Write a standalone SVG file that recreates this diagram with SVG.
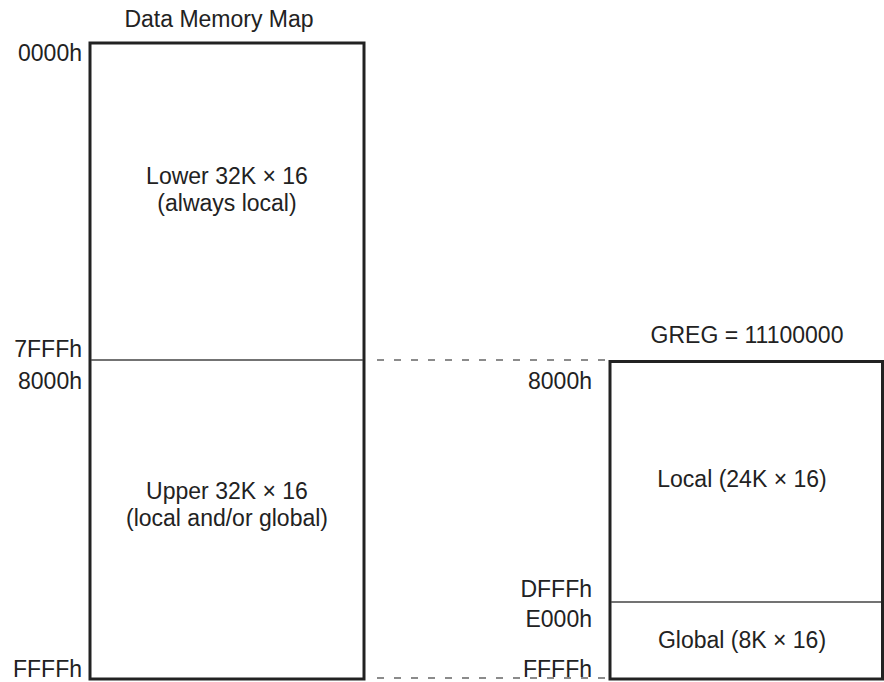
<svg xmlns="http://www.w3.org/2000/svg" width="884" height="682" viewBox="0 0 884 682">
<style>
text{font-family:"Liberation Sans",Arial,sans-serif;font-size:23px;fill:#222}
.e{text-anchor:end}
.m{text-anchor:middle}
.box{fill:#fff;stroke:#222;stroke-width:3}
.div{stroke:#444;stroke-width:1.5;fill:none}
.dash{stroke:#666;stroke-width:1.5;stroke-dasharray:7 10;fill:none}
</style>
<rect width="884" height="682" fill="#fff"/>
<g id="connectors">
<line class="dash" x1="377" y1="360" x2="608" y2="360"/>
<line class="dash" x1="377" y1="678" x2="608" y2="678"/>
</g>
<g id="data-memory-map">
<text class="m" x="219" y="27">Data Memory Map</text>
<rect class="box" x="90" y="43" width="274" height="636"/>
<line class="div" x1="91" y1="360" x2="363" y2="360"/>
<text class="e" x="82" y="61">0000h</text>
<text class="e" x="82" y="357">7FFFh</text>
<text class="e" x="82" y="389">8000h</text>
<text class="e" x="82" y="677">FFFFh</text>
</g>
<g id="lower">
<text class="m" x="227" y="184">Lower 32K × 16</text>
<text class="m" x="227" y="211">(always local)</text>
</g>
<g id="upper">
<text class="m" x="227" y="499">Upper 32K × 16</text>
<text class="m" x="227" y="526">(local and/or global)</text>
</g>
<g id="greg-map">
<text class="m" x="747" y="343">GREG = 11100000</text>
<rect class="box" x="610" y="361.5" width="272.5" height="317.5"/>
<line class="div" x1="611" y1="602" x2="881" y2="602"/>
<text class="e" x="592" y="389">8000h</text>
<text class="e" x="592" y="597">DFFFh</text>
<text class="e" x="592" y="627">E000h</text>
<text class="e" x="592" y="677">FFFFh</text>
</g>
<g id="local">
<text class="m" x="742" y="487">Local (24K × 16)</text>
</g>
<g id="global">
<text class="m" x="742" y="648">Global (8K × 16)</text>
</g>
</svg>
